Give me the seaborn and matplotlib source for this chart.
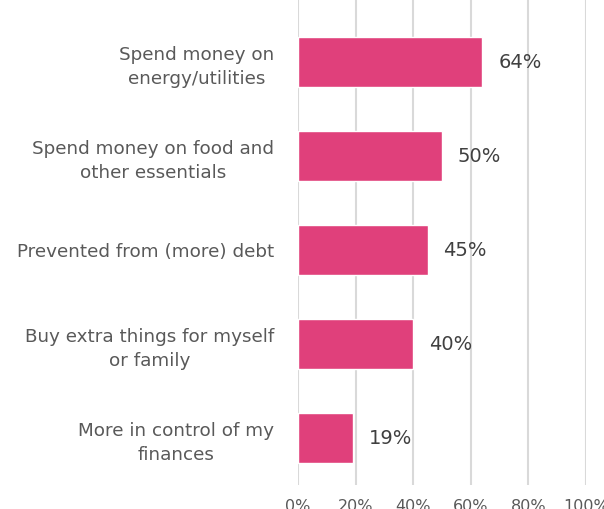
import matplotlib
matplotlib.use("Agg")
import matplotlib.pyplot as plt
import seaborn as sns
import pandas as pd

categories = [
    "Spend money on\nenergy/utilities",
    "Spend money on food and\nother essentials",
    "Prevented from (more) debt",
    "Buy extra things for myself\nor family",
    "More in control of my\nfinances",
]
values = [64, 50, 45, 40, 19]
tick_values = [0, 20, 40, 60, 80, 100]
tick_labels = ["0%", "20%", "40%", "60%", "80%", "100%"]

df = pd.DataFrame({"category": categories, "value": values})

sns.set_theme(style="white")
plt.rcParams["font.family"] = ["DejaVu Sans"]

text_color = "#595959"
bar_color = "#E0407B"

fig = plt.figure(figsize=(6.04, 5.09), dpi=100)
ax = fig.add_axes([298 / 604, 24 / 509, 288 / 604, 485 / 509])

sns.barplot(data=df, x="value", y="category", orient="h", color=bar_color,
            width=0.53, saturation=1, ax=ax, zorder=3)

ax.set_xlim(0, 100)
ax.set_ylim(4.5, -0.66)
ax.set_xticks(tick_values)
ax.set_xticklabels(tick_labels, color=text_color, fontsize=11.5)
ax.tick_params(axis="x", length=0, pad=10)
ax.tick_params(axis="y", length=0, pad=17)
for lbl in ax.get_yticklabels():
    lbl.set_color(text_color)
    lbl.set_fontsize(13.2)
    lbl.set_multialignment("center")
    lbl.set_linespacing(1.4)

ax.xaxis.grid(True, color="#d9d9d9", linewidth=1.5, zorder=0)
ax.yaxis.grid(False)
for s in ax.spines.values():
    s.set_visible(False)
ax.set_xlabel("")
ax.set_ylabel("")

for i, v in enumerate(values):
    ax.text(v + 5.5, i, f"{v}%", va="center", ha="left",
            color="#404040", fontsize=14, zorder=4)

fig.savefig("out.png", dpi=100)
